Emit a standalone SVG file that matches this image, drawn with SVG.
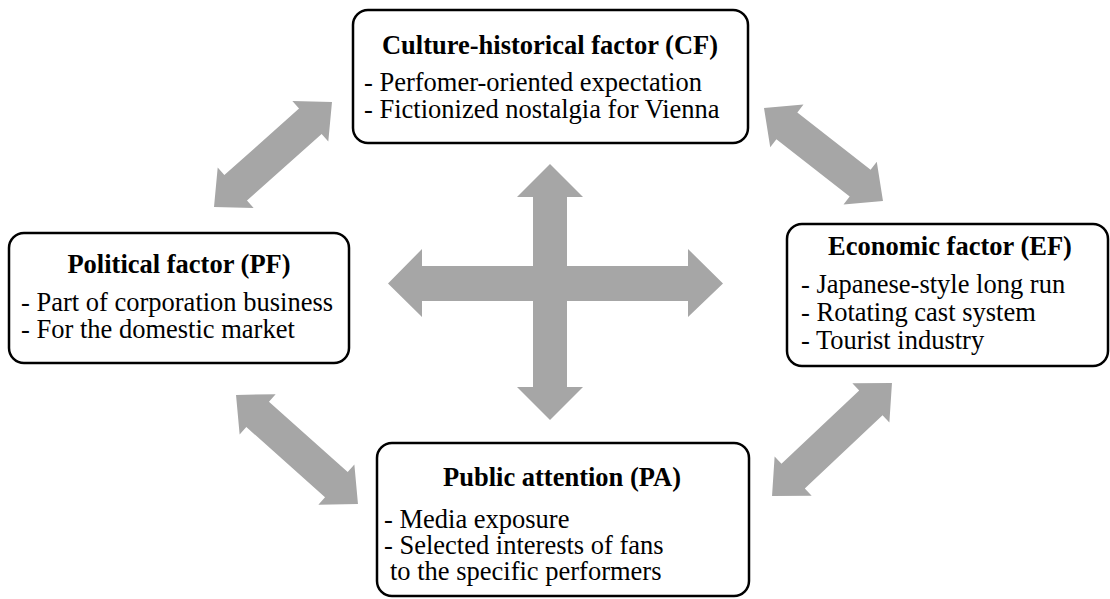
<svg xmlns="http://www.w3.org/2000/svg" width="1110" height="599" viewBox="0 0 1110 599">
<style>
.box{fill:#fff;stroke:#000;stroke-width:2.5}
.arr{fill:#A6A6A6;stroke:none}
.tx{font-family:'Liberation Serif','Times New Roman',serif;font-size:26.5px;fill:#000}
.t{font-weight:bold;text-anchor:middle}
</style>
<g id="connectors">
<polygon class="arr" points="550,164 583,197 567,197 567,266 688,266 688,249 723,283.5 688,317 688,301 567,301 567,387 583,387 550,420 517,387 533,387 533,301 422,301 422,317 388,283.5 422,249 422,266 533,266 533,197 517,197"/>
<polygon class="arr" transform="translate(273,154.5) rotate(-41.7)" points="-79,0 -50,-27 -50,-17 50,-17 50,-27 79,0 50,27 50,17 -50,17 -50,27"/>
<polygon class="arr" transform="translate(823.5,154.5) rotate(38)" points="-75.5,0 -46.5,-27 -46.5,-17 46.5,-17 46.5,-27 75.5,0 46.5,27 46.5,17 -46.5,17 -46.5,27"/>
<polygon class="arr" transform="translate(297,449.5) rotate(41.8)" points="-81.8,0 -52.8,-27 -52.8,-17 52.8,-17 52.8,-27 81.8,0 52.8,27 52.8,17 -52.8,17 -52.8,27"/>
<polygon class="arr" transform="translate(832,439.5) rotate(-43.3)" points="-82.4,0 -53.4,-27 -53.4,-17 53.4,-17 53.4,-27 82.4,0 53.4,27 53.4,17 -53.4,17 -53.4,27"/>
</g>
<g id="CF" class="tx">
<rect class="box" x="353" y="10" width="395" height="133" rx="15"/>
<text class="t" x="550" y="54">Culture-historical factor (CF)</text>
<text x="364" y="91">- Perfomer-oriented expectation</text>
<text x="364" y="118">- Fictionized nostalgia for Vienna</text>
</g>
<g id="PF" class="tx">
<rect class="box" x="9" y="233" width="340" height="130" rx="15"/>
<text class="t" x="179" y="273">Political factor (PF)</text>
<text x="21" y="311">- Part of corporation business</text>
<text x="21" y="338">- For the domestic market</text>
</g>
<g id="EF" class="tx">
<rect class="box" x="787" y="224" width="321" height="142" rx="15"/>
<text class="t" x="950" y="255">Economic factor (EF)</text>
<text x="801" y="293">- Japanese-style long run</text>
<text x="801" y="321">- Rotating cast system</text>
<text x="801" y="349">- Tourist industry</text>
</g>
<g id="PA" class="tx">
<rect class="box" x="377" y="443" width="372" height="153" rx="15"/>
<text class="t" x="562" y="486">Public attention (PA)</text>
<text x="384" y="528">- Media exposure</text>
<text x="384" y="554">- Selected interests of fans</text>
<text x="390" y="580">to the specific performers</text>
</g>
</svg>
